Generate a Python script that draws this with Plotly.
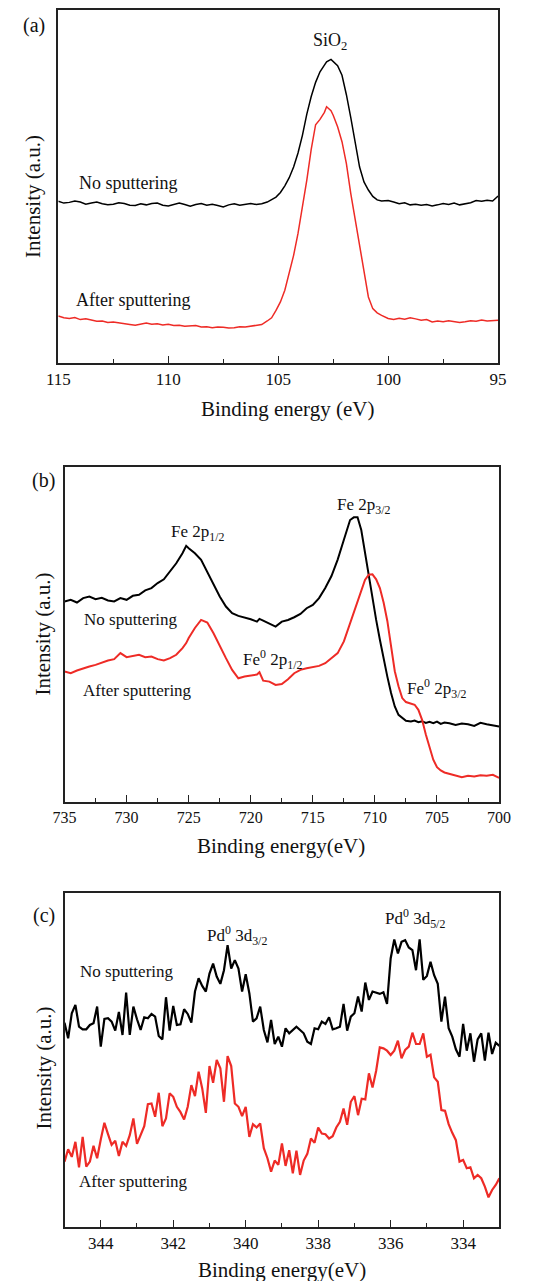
import plotly.graph_objects as go

# ---------------- data (intensity in arbitrary units, 0-100 of frame) ----------------
# Panel (a): Si 2p / SiO2
a_x = [115.0, 114.75, 114.5, 114.25, 114.0, 113.75, 113.5, 113.25, 113.0, 112.75, 112.5, 112.25, 112.0,
       111.75, 111.5, 111.25, 111.0, 110.75, 110.5, 110.25, 110.0, 109.75, 109.5, 109.25, 109.0, 108.75,
       108.5, 108.25, 108.0, 107.75, 107.5, 107.25, 107.0, 106.75, 106.5, 106.25, 106.0, 105.75, 105.5,
       105.3, 105.1, 104.9, 104.7, 104.5, 104.3, 104.1, 103.9, 103.7, 103.5, 103.3, 103.1, 102.9, 102.8,
       102.6, 102.5, 102.3, 102.1, 101.9, 101.7, 101.5, 101.3, 101.1, 100.9, 100.7, 100.5, 100.3, 100.0,
       99.75, 99.5, 99.25, 99.0, 98.75, 98.5, 98.25, 98.0, 97.75, 97.5, 97.25, 97.0, 96.75, 96.5, 96.25,
       96.0, 95.75, 95.5, 95.25, 95.0]
a_no = [45.8, 45.3, 45.5, 45.9, 45.6, 45.0, 45.3, 45.6, 45.1, 44.8, 45.0, 45.4, 45.2, 44.7, 44.6, 45.1,
        44.8, 45.2, 45.3, 44.7, 44.5, 45.0, 45.3, 44.9, 44.4, 44.9, 45.2, 44.7, 45.0, 44.6, 44.2, 44.8,
        45.1, 44.7, 45.0, 45.2, 44.9, 45.1, 45.6, 46.2, 47.0, 48.3, 50.2, 52.5, 55.5, 59.5, 64.5, 70.5,
        75.5, 79.5, 82.5, 84.4, 85.3, 86.0, 85.4, 84.2, 81.5, 76.0, 69.5, 62.5, 55.5, 51.3, 49.0, 47.2,
        46.2, 45.9, 46.0, 45.6, 45.1, 45.4, 44.8, 45.0, 44.7, 44.9, 44.5, 44.8, 45.2, 44.9, 45.3, 44.8,
        45.0, 45.4, 46.0, 45.8, 46.1, 45.9, 47.3]
a_after = [13.3, 12.8, 12.6, 12.9, 12.3, 12.5, 12.2, 11.8, 11.9, 11.5, 11.6, 11.3, 11.2, 10.9, 10.7,
           11.1, 11.3, 11.0, 11.1, 10.8, 11.0, 10.6, 10.7, 10.4, 10.4, 10.6, 10.2, 10.3, 10.0, 10.2,
           10.1, 9.9, 10.0, 10.3, 10.2, 10.4, 10.5, 10.9, 11.9, 12.8, 14.9, 17.3, 20.6, 25.3, 30.5,
           36.7, 44.2, 51.8, 60.5, 67.5, 69.0, 71.0, 72.6, 71.5, 70.2, 66.9, 62.7, 56.5, 48.0, 40.5,
           32.9, 25.3, 18.7, 15.4, 14.2, 13.5, 12.6, 12.3, 12.7, 12.4, 12.8, 12.5, 12.1, 12.3, 11.6,
           11.9, 11.7, 12.0, 11.8, 11.5, 11.7, 12.0, 11.8, 12.2, 11.9, 12.1, 12.1]

# Panel (b): Fe 2p
b_x = [735.0, 734.5, 734.0, 733.5, 733.0, 732.5, 732.0, 731.5, 731.0, 730.5, 730.0, 729.5, 729.0,
       728.5, 728.0, 727.5, 727.0, 726.5, 726.0, 725.5, 725.2, 725.0, 724.5, 724.0, 723.5, 723.0,
       722.5, 722.0, 721.5, 721.0, 720.5, 720.0, 719.5, 719.3, 719.0, 718.5, 718.0, 717.5, 717.0,
       716.5, 716.0, 715.5, 715.0, 714.5, 714.0, 713.5, 713.0, 712.5, 712.0, 711.7, 711.4, 711.1,
       710.8, 710.5, 710.2, 709.9, 709.6, 709.3, 709.0, 708.7, 708.4, 708.1, 707.8, 707.5, 707.1,
       706.8, 706.5, 706.2, 705.9, 705.6, 705.3, 705.0, 704.7, 704.4, 704.0, 703.5, 703.0, 702.5,
       702.0, 701.5, 701.0, 700.5, 700.0]
b_no = [59.8, 60.3, 59.5, 60.8, 61.3, 60.5, 60.9, 60.1, 59.8, 60.8, 60.3, 61.5, 61.8, 63.1, 63.8,
        65.3, 66.4, 68.7, 71.2, 74.2, 76.4, 75.7, 74.2, 72.2, 68.7, 65.2, 61.3, 58.3, 56.3, 55.5,
        55.1, 54.5, 53.8, 54.6, 54.1, 53.1, 52.3, 53.8, 54.3, 55.1, 56.1, 57.8, 58.8, 60.8, 63.8,
        67.4, 72.3, 78.2, 84.1, 84.9, 84.9, 81.1, 74.2, 67.2, 60.3, 54.3, 48.4, 42.4, 37.4, 32.5,
        28.5, 26.0, 25.0, 24.2, 24.0, 24.3, 23.8, 24.1, 23.6, 23.9, 23.5, 24.0, 23.3, 23.7, 23.5,
        23.0, 23.4, 23.2, 22.7, 23.6, 23.2, 22.9, 22.5]
b_after = [38.9, 38.4, 39.2, 39.9, 40.4, 40.9, 41.6, 42.2, 42.6, 44.4, 43.2, 43.6, 43.9, 43.2, 43.4,
           42.6, 42.2, 42.9, 43.9, 45.9, 47.4, 48.9, 51.9, 54.3, 53.5, 50.3, 46.4, 42.9, 39.4, 36.9,
           37.4, 37.6, 38.0, 38.7, 36.2, 35.9, 34.9, 35.2, 36.6, 38.4, 39.4, 39.9, 40.2, 40.6, 41.4,
           42.9, 44.4, 47.9, 53.3, 56.5, 60.0, 63.5, 66.2, 67.8, 67.9, 66.4, 63.8, 59.5, 54.0, 46.5,
           39.0, 34.5, 31.0, 29.8, 29.3, 29.0, 27.5, 24.5, 20.1, 16.1, 12.6, 10.4, 9.4, 8.8, 8.4, 7.8,
           7.4, 7.8, 7.6, 8.0, 7.8, 8.1, 7.2]

# Panel (c): Pd 3d
c_x = [345.0, 344.9, 344.8, 344.7, 344.6, 344.5, 344.4, 344.3, 344.2, 344.1, 344.0, 343.9, 343.8,
       343.7, 343.6, 343.5, 343.4, 343.3, 343.2, 343.1, 343.0, 342.9, 342.8, 342.7, 342.6, 342.5,
       342.4, 342.3, 342.2, 342.1, 342.0, 341.9, 341.8, 341.7, 341.6, 341.5, 341.4, 341.3, 341.2,
       341.1, 341.0, 340.9, 340.8, 340.7, 340.6, 340.5, 340.4, 340.3, 340.2, 340.1, 340.0, 339.9,
       339.8, 339.7, 339.6, 339.5, 339.4, 339.3, 339.2, 339.1, 339.0, 338.9, 338.8, 338.7, 338.6,
       338.5, 338.4, 338.3, 338.2, 338.1, 338.0, 337.9, 337.8, 337.7, 337.6, 337.5, 337.4, 337.3,
       337.2, 337.1, 337.0, 336.9, 336.8, 336.7, 336.6, 336.5, 336.4, 336.3, 336.2, 336.1, 336.0,
       335.9, 335.8, 335.7, 335.6, 335.5, 335.4, 335.3, 335.2, 335.1, 335.0, 334.9, 334.8, 334.7,
       334.6, 334.5, 334.4, 334.3, 334.2, 334.1, 334.0, 333.9, 333.8, 333.7, 333.6, 333.5, 333.4,
       333.3, 333.2, 333.1, 333.0]
c_no = [61.1, 56.4, 63.9, 66.4, 59.9, 59.1, 59.1, 60.4, 60.9, 65.9, 53.9, 62.2, 62.4, 61.4, 58.7,
        64.3, 57.4, 70.1, 57.4, 65.9, 62.1, 58.9, 62.7, 62.4, 63.7, 62.9, 57.1, 56.1, 68.7, 58.7,
        66.1, 60.4, 60.6, 65.1, 63.7, 61.1, 70.4, 74.4, 72.1, 70.4, 75.8, 78.8, 74.9, 72.7, 76.8,
        84.3, 77.3, 79.8, 77.3, 70.4, 75.6, 69.9, 61.4, 62.4, 65.9, 58.9, 55.2, 61.9, 54.7, 56.9,
        53.9, 59.4, 57.9, 58.9, 59.9, 58.9, 57.9, 55.4, 54.7, 59.4, 59.1, 61.4, 60.7, 62.7, 59.1,
        59.4, 59.9, 66.7, 58.7, 62.9, 63.9, 68.9, 64.4, 73.1, 67.9, 70.4, 70.1, 69.7, 70.2, 66.7,
        80.3, 86.0, 81.8, 85.3, 85.8, 83.6, 82.8, 76.8, 86.0, 73.9, 75.1, 79.3, 75.3, 72.7, 61.4,
        68.9, 59.4, 56.9, 53.1, 50.9, 60.7, 52.7, 57.9, 49.4, 56.1, 57.9, 49.7, 58.1, 51.7, 55.1,
        54.1]
c_after = [19.5, 23.2, 20.9, 25.4, 17.8, 26.9, 18.0, 19.5, 24.2, 20.5, 26.1, 31.1, 27.7, 24.5, 25.7,
           21.2, 25.4, 24.2, 27.4, 32.4, 24.8, 27.4, 30.1, 36.7, 36.9, 32.9, 40.1, 30.1, 32.4, 39.9,
           38.9, 35.9, 34.3, 32.1, 35.9, 42.4, 39.1, 46.4, 41.4, 34.1, 48.1, 43.1, 49.9, 47.4, 37.4,
           51.1, 48.1, 36.9, 35.9, 33.1, 35.9, 26.9, 30.7, 29.7, 30.9, 23.5, 20.5, 16.5, 19.8, 18.5,
           24.9, 18.2, 22.9, 16.0, 22.8, 15.5, 19.8, 21.8, 26.4, 25.1, 29.7, 27.9, 27.7, 26.4, 27.1,
           29.7, 31.4, 35.4, 30.5, 37.4, 39.1, 33.4, 38.3, 38.1, 45.9, 41.7, 46.7, 53.7, 53.4, 52.7,
           51.4, 52.7, 55.7, 50.4, 52.9, 53.9, 58.1, 54.7, 54.7, 57.9, 50.9, 51.5, 44.7, 43.4, 34.9,
           34.7, 30.7, 28.1, 25.9, 19.5, 20.0, 17.5, 17.8, 14.5, 15.5, 14.5, 12.0, 8.8, 11.0, 12.5,
           14.5]

# ---------------- figure ----------------
W, H = 534, 1281
FONT = "Liberation Serif"
BLACK = "#000000"
RED = "#ee2b26"


def px(x):
    return x / W


def py(y):
    return 1 - y / H


fig = go.Figure()

panels = [
    dict(ax="", x=a_x, no=a_no, after=a_after, lw=1.5,
         xd=[48.5, 509], yd=[10, 363], rng=[115, 95], dtick=5, minor=2.5, tfs=17),
    dict(ax="2", x=b_x, no=b_no, after=b_after, lw=2.0,
         xd=[55, 510], yd=[466.7, 802], rng=[735, 700], dtick=5, minor=2.5, tfs=16),
    dict(ax="3", x=c_x, no=c_no, after=c_after, lw=2.2,
         xd=[55, 510.3], yd=[892.7, 1226.7], rng=[345, 333], dtick=2, minor=1, tfs=17),
]

for p in panels:
    fig.add_trace(go.Scatter(x=p["x"], y=p["no"], mode="lines",
                             line=dict(color=BLACK, width=p["lw"]),
                             xaxis="x" + p["ax"], yaxis="y" + p["ax"], showlegend=False))
    fig.add_trace(go.Scatter(x=p["x"], y=p["after"], mode="lines",
                             line=dict(color=RED, width=p["lw"]),
                             xaxis="x" + p["ax"], yaxis="y" + p["ax"], showlegend=False))
    xa = dict(domain=[px(p["xd"][0]), px(p["xd"][1])], range=p["rng"],
              anchor="y" + p["ax"], showline=True, mirror=True, linecolor="#222", linewidth=1.5,
              ticks="inside", ticklen=7, tickwidth=1.2, tickcolor="#222",
              dtick=p["dtick"], tick0=0, showgrid=False, zeroline=False,
              tickfont=dict(family=FONT, size=p["tfs"], color="#111"),
              minor=dict(ticks="inside", ticklen=4, tickwidth=1.2, tickcolor="#222",
                         dtick=p["minor"], tick0=0, showgrid=False))
    ya = dict(domain=[py(p["yd"][1]), py(p["yd"][0])], range=[0, 100],
              anchor="x" + p["ax"], showline=True, mirror=True, linecolor="#222", linewidth=1.5,
              ticks="", showticklabels=False, showgrid=False, zeroline=False)
    fig.update_layout(**{"xaxis" + p["ax"]: xa, "yaxis" + p["ax"]: ya})

ann = []


def text(t, x, y, size, xanchor="left", angle=0):
    ann.append(dict(text=t, x=px(x), y=py(y), xref="paper", yref="paper",
                    xanchor=xanchor, yanchor="middle", showarrow=False, textangle=angle,
                    font=dict(family=FONT, size=size, color="#111")))


# panel labels
text("(a)", 23, 25, 20, "center")
text("(b)", 33, 481, 20, "center")
text("(c)", 33, 915, 20, "center")

# axis titles
text("Binding energy (eV)", 288, 409, 21, "center")
text("Binding energy(eV)", 282, 846, 21, "center")
text("Binding energy(eV)", 283, 1270, 21, "center")
text("Intensity (a.u.)", 22, 197, 21, "center", -90)
text("Intensity (a.u.)", 32, 634, 21, "center", -90)
text("Intensity (a.u.)", 33, 1068, 21, "center", -90)

# panel (a)
text("SiO<sub>2</sub>", 333, 41, 18, "center")
text("No sputtering", 68, 183, 18)
text("After sputtering", 65, 300, 18)

# panel (b)
text("Fe 2p<sub>1/2</sub>", 164, 533, 17)
text("Fe 2p<sub>3/2</sub>", 338, 506, 17)
text("Fe<sup>0</sup> 2p<sub>1/2</sub>", 240, 659, 17)
text("Fe<sup>0</sup> 2p<sub>3/2</sub>", 412, 688, 17)
text("No sputtering", 73, 619, 17)
text("After sputtering", 72, 690, 17)

# panel (c)
text("Pd<sup>0</sup> 3d<sub>3/2</sub>", 202, 935, 17)
text("Pd<sup>0</sup> 3d<sub>5/2</sub>", 388, 918, 17)
text("No sputtering", 69, 972, 17)
text("After sputtering", 68, 1181, 17)

fig.update_layout(width=W, height=H, margin=dict(l=0, r=0, t=0, b=0),
                  paper_bgcolor="white", plot_bgcolor="white",
                  annotations=ann, font=dict(family=FONT))

fig.write_html("out.html")
